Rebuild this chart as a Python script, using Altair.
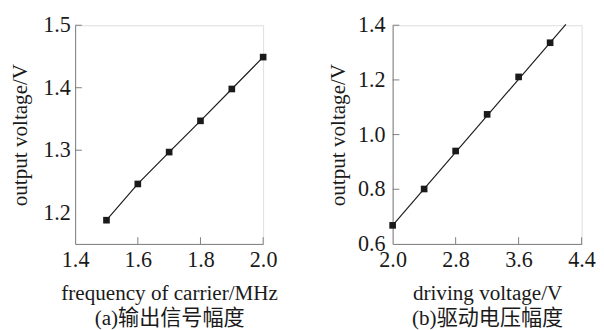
import altair as alt
import pandas as pd

# Panel (a)
freq = [1.5, 1.6, 1.7, 1.8, 1.9, 2.0]
volt_a = [1.188, 1.246, 1.297, 1.347, 1.398, 1.449]
xticks_a = [1.4, 1.6, 1.8, 2.0]
yticks_a = [1.2, 1.3, 1.4, 1.5]

# Panel (b)
drive = [2.0, 2.4, 2.8, 3.2, 3.6, 4.0]
volt_b = [0.668, 0.801, 0.940, 1.074, 1.211, 1.336]
fit_x_b = [2.0, 4.2]
fit_y_b = [0.668, 1.403]
xticks_b = [2.0, 2.8, 3.6, 4.4]
yticks_b = [0.6, 0.8, 1.0, 1.2, 1.4]

SERIF = "Liberation Serif, Times New Roman, Noto Sans CJK SC"
AXIS_COLOR = "#7a7a7a"
INK = "#1a1a1a"
TICK = 7


def panel(xs, ys, lx, ly, xt, yt, xdom, ydom, xtitle, ytitle, w, h, ytp, ylp):
    pts = pd.DataFrame({"x": xs, "y": ys})
    line = pd.DataFrame({"x": lx, "y": ly})
    xs_scale = alt.Scale(domain=xdom, nice=False, zero=False)
    ys_scale = alt.Scale(domain=ydom, nice=False, zero=False)
    xaxis = alt.Axis(values=xt, format=".1f", title=xtitle, grid=False, ticks=False,
                     domainColor=AXIS_COLOR, labelFont=SERIF, labelFontSize=23,
                     labelColor=INK, labelPadding=6, labelOverlap=False, labelFlush=False,
                     labelBound=False,
                     titleFont=SERIF, titleFontSize=22, titleFontWeight="normal",
                     titleColor=INK, titlePadding=12, titleLineHeight=26)
    yaxis = alt.Axis(values=yt, format=".1f", title=ytitle, grid=False, ticks=False,
                     domainColor=AXIS_COLOR, labelFont=SERIF, labelFontSize=23,
                     labelColor=INK, labelPadding=ylp, labelOverlap=False, labelFlush=False,
                     labelBound=False,
                     titleFont=SERIF, titleFontSize=22, titleFontWeight="normal",
                     titleColor=INK, titlePadding=ytp)
    base_line = alt.Chart(line).mark_line(color=INK, strokeWidth=1.2).encode(
        x=alt.X("x:Q", scale=xs_scale, axis=xaxis),
        y=alt.Y("y:Q", scale=ys_scale, axis=yaxis),
    )
    squares = alt.Chart(pts).mark_square(size=48, color=INK, opacity=1).encode(
        x=alt.X("x:Q"), y=alt.Y("y:Q")
    )
    xtick_df = pd.DataFrame({"x": xt[1:]})
    ytick_df = pd.DataFrame({"y": yt[1:]})
    xtk = alt.Chart(xtick_df).mark_rule(color=AXIS_COLOR, strokeWidth=1).encode(
        x=alt.X("x:Q"), y=alt.value(h), y2=alt.value(h - TICK)
    )
    ytk = alt.Chart(ytick_df).mark_rule(color=AXIS_COLOR, strokeWidth=1).encode(
        y=alt.Y("y:Q"), x=alt.value(0), x2=alt.value(TICK)
    )
    return alt.layer(base_line, squares, xtk, ytk).properties(width=w, height=h)


left = panel(freq, volt_a, freq, volt_a, xticks_a, yticks_a, [1.4, 2.0], [1.15, 1.5],
             ["frequency of carrier/MHz", "(a)输出信号幅度"], "output voltage/V",
             196, 228, 12, 5)
right = panel(drive, volt_b, fit_x_b, fit_y_b, xticks_b, yticks_b, [2.0, 4.4], [0.6, 1.4],
              ["driving voltage/V", "(b)驱动电压幅度"], "output voltage/V",
              197, 228, 8, 8)

chart = alt.hconcat(left, right, spacing=50).properties(
    padding={"left": 0, "top": -1, "right": 0, "bottom": 0}
).configure_view(stroke=None).configure(background="white")

chart.save("out.html", embed_options={"renderer": "svg", "actions": False})
